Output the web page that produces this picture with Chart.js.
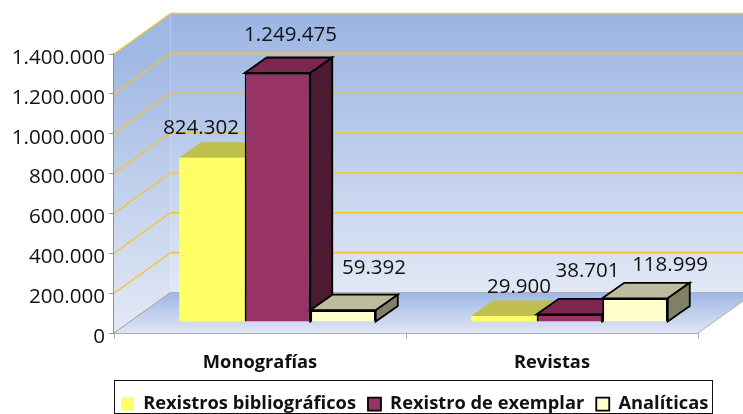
<!DOCTYPE html>
<html><head><meta charset="utf-8">
<script src="https://cdn.jsdelivr.net/npm/chart.js@4"></script>
<style>html,body{margin:0;padding:0;background:#fff}#w{position:relative;width:743px;height:414px}</style>
</head><body><div id="w"><canvas id="c" width="743" height="414"></canvas></div>
<script>
const categories = ["Monografías", "Revistas"];
const bibliograficos = [824302, 29900];
const exemplar = [1249475, 38701];
const analiticas = [59392, 118999];
const seriesNames = ["Rexistros bibliográficos", "Rexistro de exemplar", "Analíticas"];
const yMax = 1400000, yStep = 200000;

const FONT = "'Open Sans', sans-serif";
const WALL = {dx: 56.5, dy: -40.5};
const BAR_SHIFT = {dx: 17.5, dy: -11};
const DEPTH = {dx: 22, dy: -15.5};
const fmt = v => Math.round(v).toString().replace(/\B(?=(\d{3})+(?!\d))/g, ".");

const faces = [
  {top: "#BFBF4D", side: "#80802F", line: null},
  {top: "#7A2850", side: "#4D1A33", line: "#000"},
  {top: "#BDBD9E", side: "#808066", line: "#000"}
];
// label offsets relative to the front-top-centre of each bar: [dataset][category]
const labelOffset = [
  [[-11, -30], [15, -29]],
  [[13, -38], [18, -43]],
  [[31, -42], [35, -33]]
];

function poly(ctx, pts, fill, stroke, lw) {
  ctx.beginPath();
  pts.forEach((p, i) => i ? ctx.lineTo(p[0], p[1]) : ctx.moveTo(p[0], p[1]));
  ctx.closePath();
  if (fill) { ctx.fillStyle = fill; ctx.fill(); }
  if (stroke) { ctx.strokeStyle = stroke; ctx.lineWidth = lw || 1; ctx.stroke(); }
}

const room = {
  id: "room",
  afterLayout(chart) {
    const l = chart.legend;
    l.left = 109; l.right = 800; l.top = 383; l.bottom = 414;
  },
  beforeDatasetsDraw(chart) {
    const {ctx, chartArea: a, scales: {y}} = chart;
    const bx = a.left + WALL.dx, y0 = y.getPixelForValue(0), yT = y.getPixelForValue(yMax);
    const by0 = y0 + WALL.dy, byT = yT + WALL.dy;
    ctx.save();
    let g = ctx.createLinearGradient(0, byT, 0, by0);
    g.addColorStop(0, "#9AB4E3"); g.addColorStop(0.68, "#CAD7EF"); g.addColorStop(1, "#E2E8F5");
    ctx.fillStyle = g;
    ctx.fillRect(bx, byT, 743 - bx, by0 - byT);
    g = ctx.createLinearGradient(0, yT, 0, y0);
    g.addColorStop(0, "#A0B8E4"); g.addColorStop(0.6, "#C9D6EE"); g.addColorStop(1, "#E4E9F6");
    poly(ctx, [[a.left, yT], [bx, byT], [bx, by0], [a.left, y0]], g);
    g = ctx.createLinearGradient(0, by0, 0, y0);
    g.addColorStop(0, "#9DB7E4"); g.addColorStop(1, "#E0E6F4");
    poly(ctx, [[a.left, y0], [bx, by0], [743 + 12, by0], [a.right, y0]], g);
    // grid lines from the value scale
    y.ticks.forEach(t => {
      const py = y.getPixelForValue(t.value);
      if (t.value === 0) return;
      ctx.strokeStyle = "#F7C41F";
      ctx.lineWidth = 1.2;
      ctx.beginPath(); ctx.moveTo(a.left, py); ctx.lineTo(bx, py + WALL.dy); ctx.stroke();
      ctx.lineWidth = 1.6;
      ctx.beginPath(); ctx.moveTo(bx, py + WALL.dy); ctx.lineTo(743, py + WALL.dy); ctx.stroke();
    });
    ctx.lineWidth = 1;
    ctx.strokeStyle = "#A3A28A";
    ctx.beginPath(); ctx.moveTo(a.left, y0); ctx.lineTo(bx, by0); ctx.stroke();
    ctx.strokeStyle = "#A9AEB8";
    ctx.beginPath(); ctx.moveTo(bx, by0); ctx.lineTo(743, by0); ctx.stroke();
    ctx.beginPath(); ctx.moveTo(a.right, y0); ctx.lineTo(743 + 12, by0); ctx.stroke();
    ctx.restore();
  },
  // the library paints later datasets first; the bars here must overlap front to back
  beforeDatasetDraw() { return false; },
  afterDatasetsDraw(chart) {
    const {ctx} = chart;
    chart.data.datasets.forEach((ds, i) => {
      const meta = chart.getDatasetMeta(i), f = faces[i];
      ctx.save();
      ctx.translate(BAR_SHIFT.dx, BAR_SHIFT.dy);
      meta.data.forEach(b => {
        const L = b.x - b.width / 2, R = b.x + b.width / 2, T = b.y, B = b.base;
        poly(ctx, [[L, T], [L + DEPTH.dx, T + DEPTH.dy], [R + DEPTH.dx, T + DEPTH.dy], [R, T]], f.top, f.line, 1.8);
        poly(ctx, [[R, T], [R + DEPTH.dx, T + DEPTH.dy], [R + DEPTH.dx, B + DEPTH.dy], [R, B]], f.side, f.line, 1.8);
      });
      meta.controller.draw();
      ctx.restore();
    });
    ctx.save();
    ctx.font = "20.5px " + FONT;
    ctx.fillStyle = "#111";
    ctx.textAlign = "center"; ctx.textBaseline = "middle";
    chart.data.datasets.forEach((ds, i) => {
      chart.getDatasetMeta(i).data.forEach((b, j) => {
        const o = labelOffset[i][j];
        ctx.fillText(fmt(ds.data[j]), b.x + BAR_SHIFT.dx + o[0], b.y + BAR_SHIFT.dy + o[1]);
      });
    });
    ctx.restore();
  },
  afterDraw(chart) {
    const {ctx} = chart;
    ctx.save();
    ctx.strokeStyle = "#111"; ctx.lineWidth = 1;
    ctx.strokeRect(114.5, 380.5, 598, 33);
    ctx.restore();
  }
};

const mk = (label, data, bg, border, bw) => ({
  label, data, backgroundColor: bg, borderColor: border, borderWidth: bw
});

new Chart(document.getElementById("c"), {
  type: "bar",
  data: {
    labels: categories,
    datasets: [
      mk(seriesNames[0], bibliograficos, "#FFFF66", "#FFFF66", 0),
      mk(seriesNames[1], exemplar, "#993366", "#000", 1.8),
      mk(seriesNames[2], analiticas, "#FFFFCC", "#000", 1.8)
    ]
  },
  options: {
    responsive: false,
    animation: false,
    layout: {padding: {top: 54, right: 45, left: 0, bottom: 0}},
    categoryPercentage: 0.673,
    barPercentage: 1,
    plugins: {
      tooltip: {enabled: false},
      legend: {
        position: "bottom",
        align: "start",
        labels: {
          boxWidth: 13, boxHeight: 13, padding: 12, color: "#111",
          font: {family: FONT, size: 18.3, weight: "bold"}
        }
      }
    },
    scales: {
      x: {
        afterFit: s => { s.height = 81 - ((s.chart.legend && s.chart.legend.height) || 0); },
        grid: {drawOnChartArea: false, tickLength: 6, color: "#A9A9B8"},
        border: {color: "#A9A9C8", width: 2},
        ticks: {color: "#111", padding: 13, font: {family: FONT, size: 18.3, weight: "bold"}}
      },
      y: {
        min: 0, max: yMax,
        afterFit: s => { s.width = 114; },
        grid: {drawOnChartArea: false, tickLength: 5, color: "#8C8CC4"},
        border: {color: "#8C8CC4", width: 1.5},
        ticks: {
          stepSize: yStep, color: "#111", padding: 4, labelOffset: 4,
          font: {family: FONT, size: 20.6},
          callback: v => fmt(v)
        }
      }
    }
  },
  plugins: [room]
});
</script></body></html>
